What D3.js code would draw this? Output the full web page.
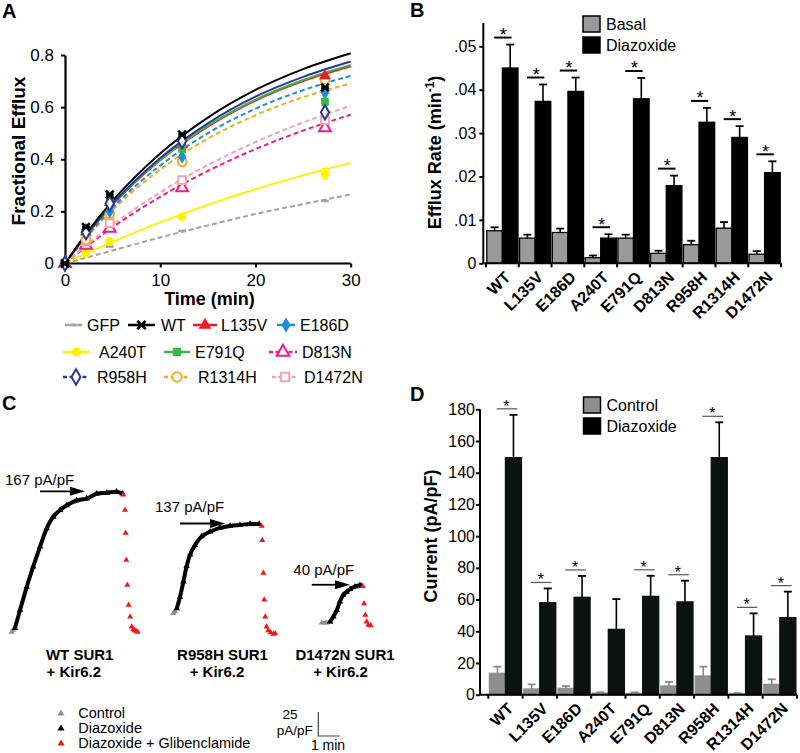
<!DOCTYPE html>
<html>
<head>
<meta charset="utf-8">
<script src="https://cdn.jsdelivr.net/npm/d3@7"></script>
<style>
  body { margin: 0; background: #fff; }
  svg { font-family: Arial, "Liberation Sans", Helvetica, sans-serif; }
  .axis path, .axis line { stroke: #000; }
</style>
</head>
<body>
<svg id="fig" width="800" height="753"></svg>
<script>
// ---------- panel A : fractional efflux ----------
var effluxTimes = [0, 2.2, 4.7, 12.3, 27.3];
var effGFP    = [0, 0.04, 0.065, 0.125, 0.24];
var effWT     = [0, 0.14, 0.265, 0.495, 0.675];
var effL135V  = [0, 0.12, 0.235, 0.455, 0.72];
var effE186D  = [0, 0.125, 0.20, 0.41, 0.655];
var effA240T  = [0, 0.04, 0.085, 0.18, 0.345];
var effE791Q  = [0, 0.13, 0.24, 0.44, 0.62];
var effD813N  = [0, 0.07, 0.135, 0.29, 0.52];
var effR958H  = [0, 0.12, 0.23, 0.47, 0.58];
var effR1314H = [0, 0.09, 0.19, 0.39, 0.705];
var effD1472N = [0, 0.085, 0.155, 0.32, 0.55];
var effErrA240T = [0, 0.004, 0.006, 0.008, 0.02];

var fitTimes  = [0, 2.5, 5, 10, 15, 20, 25, 30];
var fitGFP    = [0, 0.025, 0.050, 0.100, 0.146, 0.190, 0.228, 0.265];
var fitWT     = [0, 0.128, 0.240, 0.422, 0.560, 0.666, 0.746, 0.807];
var fitL135V  = [0, 0.120, 0.225, 0.396, 0.525, 0.625, 0.700, 0.757];
var fitE186D  = [0, 0.114, 0.214, 0.376, 0.500, 0.594, 0.665, 0.720];
var fitA240T  = [0, 0.043, 0.083, 0.158, 0.225, 0.285, 0.338, 0.386];
var fitE791Q  = [0, 0.121, 0.227, 0.398, 0.529, 0.629, 0.704, 0.762];
var fitD813N  = [0, 0.072, 0.139, 0.256, 0.355, 0.439, 0.510, 0.571];
var fitR958H  = [0, 0.123, 0.230, 0.405, 0.538, 0.640, 0.716, 0.775];
var fitR1314H = [0, 0.109, 0.205, 0.361, 0.479, 0.569, 0.638, 0.690];
var fitD1472N = [0, 0.077, 0.148, 0.273, 0.378, 0.466, 0.541, 0.605];

// ---------- panel B : efflux rate ----------
var mutants = ["WT", "L135V", "E186D", "A240T", "E791Q", "D813N", "R958H", "R1314H", "D1472N"];
var basalRate  = [0.0075, 0.0058, 0.0071, 0.0013, 0.0058, 0.0023, 0.0043, 0.0081, 0.0021];
var basalSem   = [0.0008, 0.0008, 0.0009, 0.0005, 0.0008, 0.0006, 0.0009, 0.0014, 0.0007];
var diazRate   = [0.0450, 0.0373, 0.0396, 0.0058, 0.0379, 0.0179, 0.0325, 0.0290, 0.0209];
var diazRateSem = [0.0054, 0.0039, 0.0032, 0.0009, 0.0048, 0.0023, 0.0033, 0.0026, 0.0026];
var rateTicks = [0, 0.01, 0.02, 0.03, 0.04, 0.05];

// ---------- panel D : current density ----------
var controlCurrent = [13.5, 3.6, 4, 1, 0.8, 5.5, 11.8, 0.5, 6.5];
var controlSem     = [4.2, 2.9, 1.5, 0.6, 0.7, 2.5, 5.9, 0.5, 3.2];
var diazCurrent    = [149.5, 58, 61.4, 41.2, 62, 58.5, 149.5, 37, 48.6];
var diazCurrentSem = [27, 9, 13.5, 19.1, 13, 13.4, 22.3, 14.3, 16.4];
var currentSig     = [1, 1, 1, 0, 1, 1, 1, 1, 1];
var currentTicks = [0, 20, 40, 60, 80, 100, 120, 140, 160, 180];

// ---------- panel C : example traces (min, pA/pF) ----------
var wtControl = [[0, 0], [0.06, 2]];
var wtDiaz = [[0.15, 4], [0.39, 23], [0.70, 47], [1.0, 68], [1.32, 89], [1.63, 108], [1.93, 120], [2.25, 127],
              [2.56, 132], [3.02, 137], [3.49, 139], [3.95, 144], [4.42, 145], [4.88, 146], [5.16, 144]];
var wtGlib = [[5.19, 143], [5.27, 127], [5.30, 103], [5.33, 75], [5.38, 49], [5.44, 28], [5.51, 16],
              [5.58, 5.5], [5.66, 2.8], [5.72, 1.5], [5.78, 1], [5.86, 0]];
var r958hControl = [[0, 0], [0.08, 2]];
var r958hDiaz = [[0.16, 5], [0.31, 17], [0.47, 33], [0.62, 49], [0.78, 61], [1.01, 71], [1.32, 80], [1.71, 85],
                 [2.17, 89], [2.64, 91], [3.1, 92], [3.57, 93], [4.0, 93]];
var r958hGlib = [[4.11, 91], [4.14, 76], [4.19, 42], [4.23, 14], [4.28, -3.5], [4.34, -14], [4.42, -18],
                 [4.53, -20], [4.65, -21.5], [4.74, -21]];
var d1472nControl = [[0, 0], [0.2, 0], [0.39, 0.5]];
var d1472nDiaz = [[0.39, 1], [0.54, 6.3], [0.70, 13], [0.85, 22], [1.0, 29], [1.16, 32], [1.32, 35],
                  [1.55, 37.5], [1.78, 39], [1.86, 38]];
var d1472nGlib = [[1.91, 38], [1.97, 20], [2.03, 8], [2.09, 1], [2.17, -2.4], [2.28, -3]];
var traceNames = ["WT SUR1", "R958H SUR1", "D1472N SUR1"];
var peakLabels = ["167 pA/pF", "137 pA/pF", "40 pA/pF"];

var svg = d3.select("#fig");

// custom marker shapes
var symbolTimes = { draw: function (ctx, size) {
  var r = Math.sqrt(size) / 2;
  ctx.moveTo(-r, -r); ctx.lineTo(r, r); ctx.moveTo(r, -r); ctx.lineTo(-r, r);
  ctx.moveTo(-r, 0); ctx.lineTo(r, 0);
}};
var symbolBar = { draw: function (ctx, size) {
  var r = Math.sqrt(size) / 2;
  ctx.moveTo(-r, 0); ctx.lineTo(r, 0);
}};

var seriesA = [
  {name: "GFP",    pts: effGFP,    fit: fitGFP,    color: "#a3a3a3", sym: symbolBar,          open: "line", dashFit: true,  dashLeg: true},
  {name: "WT",     pts: effWT,     fit: fitWT,     color: "#000000", sym: symbolTimes,        open: "line", dashFit: false, dashLeg: false},
  {name: "L135V",  pts: effL135V,  fit: fitL135V,  color: "#ed1c24", sym: d3.symbolTriangle, open: false,  dashFit: false, dashLeg: false},
  {name: "E186D",  pts: effE186D,  fit: fitE186D,  color: "#1b8fd6", sym: d3.symbolDiamond,  open: false,  dashFit: true,  dashLeg: false},
  {name: "A240T",  pts: effA240T,  fit: fitA240T,  color: "#fff200", sym: d3.symbolCircle,   open: false,  dashFit: false, dashLeg: false, err: effErrA240T},
  {name: "E791Q",  pts: effE791Q,  fit: fitE791Q,  color: "#3db54a", sym: d3.symbolSquare,   open: false,  dashFit: false, dashLeg: false},
  {name: "D813N",  pts: effD813N,  fit: fitD813N,  color: "#ec1c8c", sym: d3.symbolTriangle, open: true,   dashFit: true,  dashLeg: true},
  {name: "R958H",  pts: effR958H,  fit: fitR958H,  color: "#263a96", sym: d3.symbolDiamond,  open: true,   dashFit: false, dashLeg: true},
  {name: "R1314H", pts: effR1314H, fit: fitR1314H, color: "#f9a825", sym: d3.symbolCircle,   open: true,   dashFit: true,  dashLeg: true},
  {name: "D1472N", pts: effD1472N, fit: fitD1472N, color: "#f5a3a8", sym: d3.symbolSquare,   open: true,   dashFit: true,  dashLeg: true}
];

function panelLabel(txt, x, y) {
  svg.append("text").attr("x", x).attr("y", y).text(txt)
    .style("font-size", "20px").style("font-weight", "bold");
}

function drawMarker(sel, s, size) {
  sel.append("path")
    .attr("d", d3.symbol().type(s.sym).size(size))
    .attr("fill", s.open === false ? s.color : (s.open === "line" ? "none" : "#fff"))
    .attr("stroke", s.color)
    .attr("stroke-width", s.open === false ? 0 : (s.open === "line" ? 2.6 : 2));
}

// ================= A =================
(function () {
  var x = d3.scaleLinear().domain([0, 30]).range([65, 350.7]);
  var y = d3.scaleLinear().domain([0, 0.8]).range([263.5, 55]);
  var g = svg.append("g");

  var yAxis = g.append("g").attr("class", "axis").attr("transform", "translate(65,0)")
    .call(d3.axisLeft(y).tickValues([0, 0.2, 0.4, 0.6, 0.8]).tickSize(4).tickSizeOuter(0).tickPadding(7)
      .tickFormat(function (d) { return d === 0 ? "0" : d3.format(".1f")(d); }));
  var xAxis = g.append("g").attr("class", "axis").attr("transform", "translate(0,263.5)")
    .call(d3.axisBottom(x).tickValues([0, 10, 20, 30]).tickSize(4).tickSizeOuter(0).tickPadding(6));
  [yAxis, xAxis].forEach(function (a) {
    a.selectAll("text").style("font-size", "17px").attr("fill", "#000");
    a.select(".domain").attr("stroke-width", 2.2);
    a.selectAll(".tick line").attr("stroke-width", 2);
  });
  xAxis.select(".domain").attr("d", "M" + (x(0) - 5) + ",0H" + x(30));

  var line = d3.line().x(function (d) { return x(d[0]); }).y(function (d) { return y(d[1]); })
    .curve(d3.curveMonotoneX);
  var drawOrder = ["GFP", "A240T", "D813N", "D1472N", "R1314H", "E186D", "L135V", "E791Q", "R958H", "WT"];
  drawOrder.forEach(function (n) {
    var s = seriesA.find(function (d) { return d.name === n; });
    g.append("path")
      .attr("d", line(fitTimes.map(function (t, i) { return [t, s.fit[i]]; })))
      .attr("fill", "none").attr("stroke", s.color).attr("stroke-width", 2)
      .attr("stroke-dasharray", s.dashFit ? "5,3" : null);
  });

  drawOrder.forEach(function (n) {
    var s = seriesA.find(function (d) { return d.name === n; });
    effluxTimes.forEach(function (t, i) {
      if (s.err && s.err[i]) {
        g.append("line").attr("x1", x(t)).attr("x2", x(t))
          .attr("y1", y(s.pts[i] - s.err[i])).attr("y2", y(s.pts[i] + s.err[i]))
          .attr("stroke", s.color).attr("stroke-width", 1.5);
        [-1, 1].forEach(function (k) {
          g.append("line").attr("x1", x(t) - 3).attr("x2", x(t) + 3)
            .attr("y1", y(s.pts[i] + k * s.err[i])).attr("y2", y(s.pts[i] + k * s.err[i]))
            .attr("stroke", s.color).attr("stroke-width", 1.5);
        });
      }
      var m = g.append("g").attr("transform", "translate(" + x(t) + "," + y(s.pts[i]) + ")");
      drawMarker(m, s, 60);
    });
  });

  g.append("text").attr("transform", "translate(25,151) rotate(-90)").attr("text-anchor", "middle")
    .text("Fractional Efflux").style("font-size", "19px").style("font-weight", "bold");
  g.append("text").attr("x", 209.5).attr("y", 305).attr("text-anchor", "middle")
    .text("Time (min)").style("font-size", "18px").style("font-weight", "bold");

  // legend
  var legendRows = [
    {y: 325, items: ["GFP", "WT", "L135V", "E186D"], x0: [65, 128, 193, 277], x1: [82, 155, 217, 295], tx: [87, 161, 221, 300]},
    {y: 352, items: ["A240T", "E791Q", "D813N"], x0: [63, 164, 269], x1: [90, 190, 297], tx: [99, 195, 302]},
    {y: 377, items: ["R958H", "R1314H", "D1472N"], x0: [63, 164, 272], x1: [89, 190, 298], tx: [97, 198, 304]}
  ];
  legendRows.forEach(function (row) {
    row.items.forEach(function (n, i) {
      var s = seriesA.find(function (d) { return d.name === n; });
      g.append("line").attr("x1", row.x0[i]).attr("x2", row.x1[i]).attr("y1", row.y).attr("y2", row.y)
        .attr("stroke", s.color).attr("stroke-width", 2.5)
        .attr("stroke-dasharray", s.dashLeg ? "4,2.5" : null);
      var m = g.append("g").attr("transform", "translate(" + ((row.x0[i] + row.x1[i]) / 2) + "," + row.y + ")");
      drawMarker(m, s, 70);
      g.append("text").attr("x", row.tx[i]).attr("y", row.y + 6).text(n).style("font-size", "16px");
    });
  });
})();
panelLabel("A", 2, 18);

// ================= bar panels (B, D) =================
function barPanel(opt) {
  var g = svg.append("g");
  var x0 = d3.scaleBand().domain(mutants).range(opt.xr).padding(0);
  var bw = x0.bandwidth();
  var x1 = d3.scaleBand().domain(["a", "b"]).range([0, bw]).paddingInner(0).paddingOuter(opt.outer);
  var y = d3.scaleLinear().domain([0, opt.max]).range(opt.yr);

  mutants.forEach(function (m, i) {
    var gx = x0(m);
    [[opt.a[i], opt.aSem[i], "a"], [opt.b[i], opt.bSem[i], "b"]].forEach(function (v) {
      var bx = gx + x1(v[2]);
      var isA = v[2] === "a";
      var top = y(v[0] + v[1]);
      var cx = bx + x1.bandwidth() / 2;
      var ec = isA ? opt.aErr : "#000";
      g.append("line").attr("x1", cx).attr("x2", cx).attr("y1", y(v[0])).attr("y2", top)
        .attr("stroke", ec).attr("stroke-width", 1.6);
      g.append("line").attr("x1", cx - 4).attr("x2", cx + 4).attr("y1", top).attr("y2", top)
        .attr("stroke", ec).attr("stroke-width", 1.8);
      g.append("rect").attr("x", bx).attr("y", y(v[0])).attr("width", x1.bandwidth())
        .attr("height", y(0) - y(v[0]))
        .attr("fill", isA ? opt.aFill : opt.bFill)
        .attr("stroke", isA ? opt.aStroke : opt.bFill).attr("stroke-width", 1.3);
    });
    if (opt.sig[i]) {
      var ly = y(opt.b[i] + opt.bSem[i]) - opt.sigGap;
      g.append("line").attr("x1", gx + bw * opt.sigL).attr("x2", gx + bw * opt.sigR)
        .attr("y1", ly).attr("y2", ly).attr("stroke", opt.sigColor).attr("stroke-width", opt.sigW);
      g.append("text").attr("x", gx + bw * 0.53).attr("y", ly + opt.starDy).attr("text-anchor", "middle")
        .text("*").style("font-size", opt.starSize);
    }
  });

  var yAxis = g.append("g").attr("class", "axis").attr("transform", "translate(" + opt.yx + ",0)")
    .call(d3.axisLeft(y).tickValues(opt.ticks).tickSize(4).tickSizeOuter(0).tickPadding(opt.tickPad)
      .tickFormat(opt.fmt));
  yAxis.selectAll("text").style("font-size", "16px").attr("fill", "#000");
  yAxis.select(".domain").attr("d", "M0," + y(0) + "V" + opt.yTop).attr("stroke-width", 2);
  yAxis.selectAll(".tick line").attr("stroke-width", 2);

  var base = y(0);
  g.append("line").attr("x1", opt.yx).attr("x2", opt.xr[1]).attr("y1", base).attr("y2", base)
    .attr("stroke", "#000").attr("stroke-width", 2);
  mutants.concat([null]).forEach(function (m, i) {
    var tx = opt.xr[0] + i * bw;
    g.append("line").attr("x1", tx).attr("x2", tx).attr("y1", base).attr("y2", base + 4)
      .attr("stroke", "#000").attr("stroke-width", 2);
  });
  mutants.forEach(function (m) {
    var cx = x0(m) + bw / 2;
    g.append("text").attr("transform", "translate(" + (cx + 9) + "," + (base + 15) + ") rotate(-45)")
      .attr("text-anchor", "end").text(m)
      .style("font-size", "16px").style("font-weight", "bold");
  });

  g.append("text").attr("transform", "translate(" + opt.title[1] + "," + opt.title[2] + ") rotate(-90)")
    .attr("text-anchor", "middle").style("font-size", "18px").style("font-weight", "bold")
    .call(opt.title[0]);

  opt.legend.forEach(function (L, i) {
    g.append("rect").attr("x", opt.legX).attr("y", opt.legY + i * 21).attr("width", 17).attr("height", 16)
      .attr("fill", i === 0 ? opt.aFill : "#000").attr("stroke", "#000").attr("stroke-width", 1.5);
    g.append("text").attr("x", opt.legX + 23).attr("y", opt.legY + i * 21 + 13.5).text(L).style("font-size", "16px");
  });
}

barPanel({
  xr: [486, 781], yr: [263.3, 46.3], max: 0.05, yx: 483.3, yTop: 23, outer: 0.05,
  a: basalRate, aSem: basalSem, b: diazRate, bSem: diazRateSem,
  aFill: "#9a9a9a", aStroke: "#000", bFill: "#000", aErr: "#000",
  sig: mutants.map(function () { return 1; }), sigGap: 7, sigL: 0.25, sigR: 0.78,
  sigColor: "#000", sigW: 2, starDy: 3.5, starSize: "18px",
  ticks: rateTicks, tickPad: 3,
  fmt: function (d) { return d === 0 ? "0" : d3.format(".2f")(d).replace(/^0/, ""); },
  title: [function (t) {
    t.append("tspan").text("Efflux Rate (min");
    t.append("tspan").text("-1").style("font-size", "12px").attr("dy", -7);
    t.append("tspan").text(")").attr("dy", 7);
  }, 441, 152.5],
  legend: ["Basal", "Diazoxide"], legX: 583, legY: 16
});
panelLabel("B", 410, 17);

barPanel({
  xr: [488.3, 797], yr: [694.7, 409.3], max: 180, yx: 480, yTop: 409.3, outer: 0.07,
  a: controlCurrent, aSem: controlSem, b: diazCurrent, bSem: diazCurrentSem,
  aFill: "#8e8e8e", aStroke: "#8e8e8e", bFill: "#0b1210", aErr: "#8a8a8a",
  sig: currentSig, sigGap: 6, sigL: 0.245, sigR: 0.845,
  sigColor: "#555", sigW: 1.2, starDy: 3, starSize: "16px",
  ticks: currentTicks, tickPad: 1,
  fmt: function (d) { return d; },
  title: [function (t) { t.text("Current (pA/pF)"); }, 437, 536],
  legend: ["Control", "Diazoxide"], legX: 583.5, legY: 397
});
panelLabel("D", 410, 401);

// ================= C =================
(function () {
  var g = svg.append("g");
  var t = d3.scaleLinear().domain([0, 1]).range([0, 21.5]);
  var c = d3.scaleLinear().domain([0, 25]).range([0, -24]);
  var tri = d3.symbol().type(d3.symbolTriangle);
  var line = d3.line().x(function (d) { return t(d[0]); }).y(function (d) { return c(d[1]); })
    .curve(d3.curveCatmullRom);

  var traces = [
    {ctrl: wtControl, diaz: wtDiaz, glib: wtGlib, origin: [11.7, 632], arrow: [40, 85], lab: [5, 485], name: [79.7, 73.8]},
    {ctrl: r958hControl, diaz: r958hDiaz, glib: r958hGlib, origin: [173.3, 613.3], arrow: [180, 225], lab: [155, 511.7], name: [222.5, 217]},
    {ctrl: d1472nControl, diaz: d1472nDiaz, glib: d1472nGlib, origin: [321.7, 622.7], arrow: [311.7, 350], lab: [293.3, 575], name: [345, 340.5]}
  ];

  traces.forEach(function (tr, k) {
    var tg = g.append("g").attr("transform", "translate(" + tr.origin[0] + "," + tr.origin[1] + ")");
    tg.append("path").attr("d", line(tr.ctrl)).attr("fill", "none").attr("stroke", "#8f8f8f").attr("stroke-width", 3.5);
    tr.ctrl.forEach(function (d) {
      tg.append("path").attr("d", tri.size(16)()).attr("fill", "#8f8f8f")
        .attr("transform", "translate(" + t(d[0]) + "," + c(d[1]) + ")");
    });
    tg.append("path").attr("d", line(tr.diaz)).attr("fill", "none").attr("stroke", "#000")
      .attr("stroke-width", 4).attr("stroke-linejoin", "round");
    tr.diaz.forEach(function (d) {
      tg.append("path").attr("d", tri.size(18)()).attr("fill", "#000")
        .attr("transform", "translate(" + t(d[0]) + "," + c(d[1]) + ")");
    });
    tr.glib.forEach(function (d) {
      tg.append("path").attr("d", tri.size(16)()).attr("fill", "#f01818")
        .attr("transform", "translate(" + t(d[0]) + "," + c(d[1]) + ")");
    });

    // arrow at the peak current
    var peak = d3.max(tr.diaz, function (d) { return d[1]; });
    var ay = tr.origin[1] + c(peak) - 0.5;
    g.append("line").attr("x1", tr.arrow[0]).attr("x2", tr.arrow[1] - 12).attr("y1", ay).attr("y2", ay)
      .attr("stroke", "#000").attr("stroke-width", 1.8);
    g.append("path").attr("d", "M" + tr.arrow[1] + "," + ay + "L" + (tr.arrow[1] - 15) + "," + (ay - 4.5) +
      "L" + (tr.arrow[1] - 15) + "," + (ay + 4.5) + "Z").attr("fill", "#000");
    g.append("text").attr("x", tr.lab[0]).attr("y", tr.lab[1]).text(peakLabels[k]).style("font-size", "15px");

    g.append("text").attr("x", tr.name[0]).attr("y", 660).attr("text-anchor", "middle").text(traceNames[k])
      .style("font-size", "15px").style("font-weight", "bold");
    g.append("text").attr("x", tr.name[1]).attr("y", 676.7).attr("text-anchor", "middle").text("+ Kir6.2")
      .style("font-size", "15px").style("font-weight", "bold");
  });

  // legend
  var legC = [["Control", "#8f8f8f"], ["Diazoxide", "#000"], ["Diazoxide + Glibenclamide", "#f01818"]];
  legC.forEach(function (L, i) {
    var by = 717.5 + i * 15;
    g.append("path").attr("d", tri.size(22)()).attr("fill", L[1])
      .attr("transform", "translate(61," + (by - 4) + ")");
    g.append("text").attr("x", 78.3).attr("y", by).text(L[0]).style("font-size", "14.5px");
  });

  // scale bar 25 pA/pF x 1 min
  var sx = 318.3, sy = 736;
  g.append("path").attr("d", "M" + sx + "," + (sy + c(25)) + "V" + sy + "H" + (sx + t(1)))
    .attr("fill", "none").attr("stroke", "#444").attr("stroke-width", 1.2);
  g.append("text").attr("x", 290).attr("y", 719).attr("text-anchor", "middle").text("25").style("font-size", "13.5px");
  g.append("text").attr("x", 294.7).attr("y", 735).attr("text-anchor", "middle").text("pA/pF").style("font-size", "13.5px");
  g.append("text").attr("x", 328).attr("y", 750).attr("text-anchor", "middle").text("1 min").style("font-size", "14px");
})();
panelLabel("C", 2, 410);
</script>
</body>
</html>
